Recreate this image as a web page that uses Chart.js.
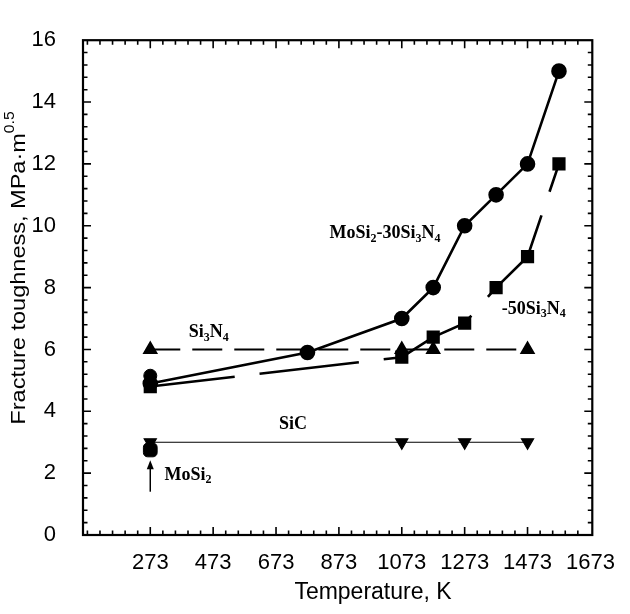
<!DOCTYPE html>
<html><head><meta charset="utf-8">
<script src="https://cdn.jsdelivr.net/npm/chart.js@4.4.0/dist/chart.umd.min.js"></script>
<style>html,body{margin:0;padding:0;background:#fff;}#wrap{width:630px;height:614px;}</style>
</head><body><div id="wrap"><canvas id="c" width="630" height="614"></canvas></div>
<script>
// ---- data ----
const xTickLabels = [273, 473, 673, 873, 1073, 1273, 1473, 1673];
const yTickLabels = [0, 2, 4, 6, 8, 10, 12, 14, 16];

const tempMoSi2_30 = [273, 773, 1073, 1173, 1273, 1373, 1473, 1573];
const kMoSi2_30    = [4.9, 5.9, 7.0, 8.0, 10.0, 11.0, 12.0, 15.0];
const tempMoSi2_30b = [273];
const kMoSi2_30b    = [5.15];
const tempMoSi2_50 = [273, 1073, 1173, 1273, 1373, 1473, 1573];
const kMoSi2_50    = [4.8, 5.75, 6.4, 6.85, 8.0, 9.0, 12.0];
const tempSi3N4 = [273, 1073, 1173, 1473];
const kSi3N4    = [6.0, 6.0, 6.0, 6.0];
const tempSiC = [273, 1073, 1273, 1473];
const kSiC    = [3.0, 3.0, 3.0, 3.0];
const tempMoSi2 = [273];
const kMoSi2    = [2.75];

const labelTexts = ['Si_3N_4', 'SiC', 'MoSi_2', 'MoSi_2-30Si_3N_4', '-50Si_3N_4'];
const labelX = [459, 727, 393, 1020, 1493];
const labelY = [6.54, 3.59, 1.93, 9.74, 7.31];

const pts = (xs, ys) => xs.map((x, i) => ({x: x, y: ys[i]}));

function drawRich(ctx, text, cx, cy, size, family, weight) {
  const parts = [];
  const re = /([_^])([0-9.]+)|([^_^]+)/g; let m;
  while ((m = re.exec(text))) {
    if (m[3]) parts.push({t: m[3], k: 'n'}); else parts.push({t: m[2], k: m[1] === '_' ? 'sub' : 'sup'});
  }
  const f = (k) => `${weight} ${k === 'n' ? size : Math.round(size * 0.68)}px ${family}`;
  let w = 0;
  parts.forEach(p => { ctx.font = f(p.k); p.w = ctx.measureText(p.t).width; w += p.w; });
  let x = cx - w / 2;
  ctx.textAlign = 'left'; ctx.textBaseline = 'middle';
  parts.forEach(p => {
    ctx.font = f(p.k);
    const dy = p.k === 'sub' ? size * 0.28 : (p.k === 'sup' ? -size * 0.4 : 0);
    ctx.fillText(p.t, x, cy + dy);
    x += p.w;
  });
}

const framePlugin = {
  id: 'framePlugin',
  beforeDatasetsDraw(chart) {
    const {ctx, chartArea: a, scales: {x, y}} = chart;
    ctx.save();
    ctx.strokeStyle = '#000';
    ctx.lineWidth = 1.6;
    ctx.beginPath();
    for (let i = 0; i <= 45; i++) {
      const v = 73 + i * 40;
      const px = x.getPixelForValue(v);
      if (px < a.left + 2 || px > a.right - 2) continue;
      const L = xTickLabels.includes(v) ? 8 : 4.5;
      ctx.moveTo(px, a.bottom); ctx.lineTo(px, a.bottom - L);
      ctx.moveTo(px, a.top); ctx.lineTo(px, a.top + L);
    }
    for (let i = 0; i <= 40; i++) {
      const py = y.getPixelForValue(i * 0.4);
      if (py < a.top + 2 || py > a.bottom - 2) continue;
      const L = i % 5 === 0 ? 8 : 4.5;
      ctx.moveTo(a.left, py); ctx.lineTo(a.left + L, py);
      ctx.moveTo(a.right, py); ctx.lineTo(a.right - L, py);
    }
    ctx.stroke();
    ctx.lineWidth = 2.2;
    ctx.strokeRect(a.left, a.top, a.width, a.height);
    ctx.restore();
  },
  afterDatasetsDraw(chart) {
    const {ctx, scales: {x, y}} = chart;
    ctx.save();
    ctx.fillStyle = '#000';
    labelTexts.forEach((t, i) => {
      drawRich(ctx, t, x.getPixelForValue(labelX[i]), y.getPixelForValue(labelY[i]), 18, '"Liberation Serif", "DejaVu Serif", serif', 'bold');
    });
    // arrow pointing to MoSi2 point
    const ax = x.getPixelForValue(tempMoSi2[0]);
    const y0 = y.getPixelForValue(1.4), y1 = y.getPixelForValue(2.42);
    ctx.strokeStyle = '#000'; ctx.lineWidth = 1.5;
    ctx.beginPath(); ctx.moveTo(ax, y0); ctx.lineTo(ax, y1 + 6); ctx.stroke();
    ctx.beginPath(); ctx.moveTo(ax, y1); ctx.lineTo(ax - 3.5, y1 + 9); ctx.lineTo(ax + 3.5, y1 + 9); ctx.closePath(); ctx.fill();
    // axis titles
    ctx.fillStyle = '#000';
    drawRich(ctx, 'Temperature, K', 373, 593, 23, '"Liberation Sans", Arial, sans-serif', 'normal');
    ctx.save();
    ctx.translate(19, 268);
    ctx.rotate(-Math.PI / 2);
    ctx.scale(1.12, 1);
    drawRich(ctx, 'Fracture toughness, MPa·m^0.5', 0, 0, 21, '"Liberation Sans", Arial, sans-serif', 'normal');
    ctx.restore();
    ctx.restore();
  }
};

const base = {pointBackgroundColor: '#000', pointBorderColor: '#000', borderColor: '#000', backgroundColor: '#000'};
const tickFont = {family: '"Liberation Sans", Arial, sans-serif', size: 22};

new Chart(document.getElementById('c'), {
  type: 'scatter',
  data: {
    datasets: [
      Object.assign({label: 'SiC', data: pts(tempSiC, kSiC), showLine: true, borderWidth: 1.2,
        pointStyle: 'triangle', pointRotation: 180, pointRadius: 7}, base),
      Object.assign({label: 'Si3N4', data: pts(tempSi3N4, kSi3N4), showLine: true, borderWidth: 2,
        borderDash: [30, 12], pointStyle: 'triangle', pointRadius: 7}, base),
      Object.assign({label: 'MoSi2-50Si3N4', data: pts(tempMoSi2_50, kMoSi2_50), showLine: true, borderWidth: 2.6,
        borderDash: [100, 25], borderDashOffset: 15, pointStyle: 'rect', pointRadius: 7.5}, base),
      Object.assign({label: 'MoSi2-30Si3N4', data: pts(tempMoSi2_30, kMoSi2_30), showLine: true, borderWidth: 2.6,
        pointStyle: 'circle', pointRadius: 6.5}, base),
      Object.assign({label: 'MoSi2-30Si3N4 (RT)', data: pts(tempMoSi2_30b, kMoSi2_30b), showLine: false,
        pointStyle: 'circle', pointRadius: 6.5}, base),
      Object.assign({label: 'MoSi2', data: pts(tempMoSi2, kMoSi2), showLine: false,
        pointStyle: 'rectRounded', pointRadius: 8}, base)
    ]
  },
  options: {
    responsive: false, animation: false,
    layout: {padding: {top: 14, right: 33, left: 0, bottom: 0}},
    plugins: {legend: {display: false}, tooltip: {enabled: false}},
    elements: {line: {tension: 0}},
    scales: {
      x: {
        type: 'linear', min: 59, max: 1679,
        afterBuildTicks: s => { s.ticks = xTickLabels.map(v => ({value: v})); },
        afterFit: s => { s.height = 79; },
        grid: {display: false, drawTicks: false}, border: {display: false},
        ticks: {padding: 15, color: '#000', maxRotation: 0, autoSkip: false, font: tickFont,
          callback: v => String(v)}
      },
      y: {
        type: 'linear', min: 0, max: 16,
        afterBuildTicks: s => { s.ticks = yTickLabels.map(v => ({value: v})); },
        afterFit: s => { s.width = 83; },
        grid: {display: false, drawTicks: false}, border: {display: false},
        ticks: {padding: 27, color: '#000', autoSkip: false, font: tickFont,
          callback: v => String(v)}
      }
    }
  },
  plugins: [framePlugin]
});
</script></body></html>
